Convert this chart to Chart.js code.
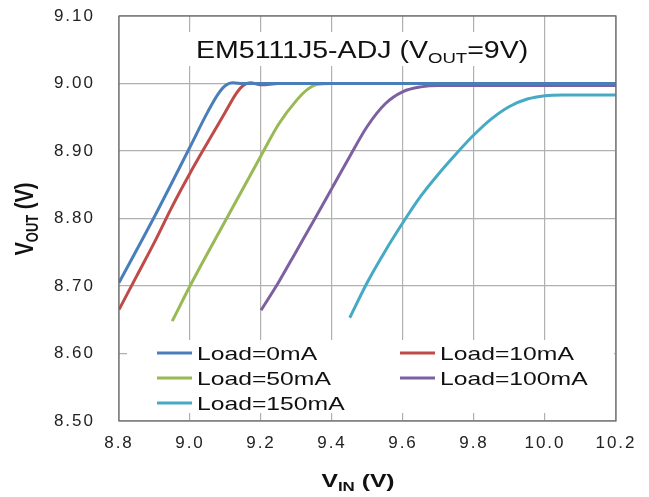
<!DOCTYPE html>
<html>
<head>
<meta charset="utf-8">
<script src="https://cdn.jsdelivr.net/npm/chart.js@4"></script>
<style>
  html, body { margin: 0; padding: 0; background: #fff; }
  #wrap { width: 649px; height: 497px; }
</style>
</head>
<body>
<div id="wrap"><canvas id="chart"></canvas></div>
<script>
// dropout curves, one per load current
const loads = ['Load=0mA', 'Load=10mA', 'Load=50mA', 'Load=100mA', 'Load=150mA'];
const colors = ['#4a7ebb', '#be4b48', '#98b954', '#7d60a0', '#46aac5'];

const vin0 = [8.80, 8.90, 9.00, 9.05, 9.08, 9.10, 9.12, 9.15, 9.40, 9.80, 10.20];
const vout0 = [8.705, 8.803, 8.906, 8.958, 8.985, 8.997, 9.001, 9.000, 9.000, 9.000, 9.000];

const vin10 = [8.80, 8.85, 8.90, 8.95, 9.00, 9.05, 9.10, 9.13, 9.15, 9.17, 9.20, 9.25, 9.60, 10.20];
const vout10 = [8.665, 8.715, 8.765, 8.818, 8.867, 8.913, 8.958, 8.985, 8.997, 9.001, 8.998, 9.000, 9.000, 9.000];

const vin50 = [8.95, 9.00, 9.10, 9.20, 9.25, 9.30, 9.33, 9.36, 9.40, 9.80, 10.20];
const vout50 = [8.648, 8.700, 8.797, 8.893, 8.940, 8.975, 8.991, 8.999, 9.000, 9.000, 9.000];

const vin100 = [9.20, 9.25, 9.30, 9.35, 9.40, 9.45, 9.50, 9.55, 9.60, 9.65, 9.70, 10.20];
const vout100 = [8.664, 8.706, 8.752, 8.798, 8.845, 8.892, 8.937, 8.970, 8.988, 8.995, 8.997, 8.997];

const vin150 = [9.45, 9.50, 9.55, 9.60, 9.65, 9.70, 9.75, 9.80, 9.85, 9.90, 9.95, 10.00, 10.05, 10.20];
const vout150 = [8.653, 8.706, 8.752, 8.794, 8.833, 8.866, 8.896, 8.924, 8.948, 8.966, 8.977, 8.982, 8.983, 8.983];

const xTicks = [8.8, 9.0, 9.2, 9.4, 9.6, 9.8, 10.0, 10.2];
const yTicks = [8.5, 8.6, 8.7, 8.8, 8.9, 9.0, 9.1];

const FONT = '"Liberation Sans", Arial, Helvetica, sans-serif';
Chart.defaults.font.family = FONT;

const series = [[vin0, vout0], [vin10, vout10], [vin50, vout50], [vin100, vout100], [vin150, vout150]];

const datasets = series.map(([xs, ys], i) => ({
  label: loads[i],
  data: xs.map((x, k) => ({ x: x, y: ys[k] })),
  borderColor: colors[i],
  backgroundColor: colors[i],
  borderWidth: 3,
  pointRadius: 0,
  cubicInterpolationMode: 'monotone',
  fill: false
}));

// text with a horizontal stretch, parts = [text, size, bold, dy]
function richWidth(ctx, parts) {
  let w = 0;
  parts.forEach(p => {
    ctx.font = (p[2] ? 'bold ' : '') + p[1] + 'px ' + FONT;
    w += ctx.measureText(p[0]).width;
  });
  return w;
}

function drawRich(ctx, parts, x, y, sx, align) {
  const w = richWidth(ctx, parts) * sx;
  const start = align === 'center' ? x - w / 2 : x;
  ctx.save();
  ctx.translate(start, y);
  ctx.scale(sx, 1);
  ctx.fillStyle = '#111';
  ctx.textBaseline = 'alphabetic';
  ctx.textAlign = 'left';
  let cx = 0;
  parts.forEach(p => {
    ctx.font = (p[2] ? 'bold ' : '') + p[1] + 'px ' + FONT;
    ctx.fillText(p[0], cx, p[3] || 0);
    cx += ctx.measureText(p[0]).width;
  });
  ctx.restore();
}

const decorations = {
  id: 'decorations',
  beforeDraw(chart) {
    chart.ctx.letterSpacing = '2px';
  },
  beforeDatasetsDraw(chart) {
    const ctx = chart.ctx;
    const a = chart.chartArea;
    ctx.letterSpacing = '0px';

    // white panels behind the title and the legend
    ctx.save();
    ctx.fillStyle = '#fff';
    ctx.fillRect(185, 32, 355, 34);
    ctx.fillRect(a.left + 8, 340, a.right - a.left - 10, 73);
    ctx.restore();

    drawRich(ctx, [['EM5111J5-ADJ (V', 23, false, 0], ['OUT', 15, false, 5], ['=9V)', 23, false, 0]],
      196, 58, 1.24, 'left');

    // legend, two columns
    const colX = [157, 400];
    const rowY = [353, 378, 403];
    chart.data.datasets.forEach((ds, i) => {
      const x = colX[i % 2];
      const y = rowY[Math.floor(i / 2)];
      ctx.save();
      ctx.strokeStyle = ds.borderColor;
      ctx.lineWidth = 3;
      ctx.beginPath();
      ctx.moveTo(x, y);
      ctx.lineTo(x + 35, y);
      ctx.stroke();
      ctx.restore();
      drawRich(ctx, [[ds.label, 19, false, 0]], x + 40, y + 7, 1.3, 'left');
    });
  },
  afterDraw(chart) {
    const ctx = chart.ctx;
    const a = chart.chartArea;
    ctx.save();
    ctx.strokeStyle = '#666';
    ctx.lineWidth = 1.2;
    ctx.strokeRect(a.left, a.top, a.right - a.left, a.bottom - a.top);
    ctx.restore();

    // axis titles
    drawRich(ctx, [['V', 19, true, 0], ['IN', 13, true, 4], [' (V)', 19, true, 0]], 358, 487, 1.3, 'center');

    ctx.save();
    ctx.translate(33, 219);
    ctx.rotate(-Math.PI / 2);
    ctx.scale(1, 1.28);
    drawRich(ctx, [['V', 20, true, 0], ['OUT', 13, true, 4], [' (V)', 20, true, 0]], 0, 0, 1, 'center');
    ctx.restore();
  }
};

new Chart(document.getElementById('chart'), {
  type: 'line',
  data: { datasets: datasets },
  options: {
    responsive: true,
    maintainAspectRatio: false,
    animation: false,
    layout: { padding: { top: 16, right: 33, left: 0, bottom: 0 } },
    plugins: {
      legend: { display: false },
      tooltip: { enabled: false }
    },
    scales: {
      x: {
        type: 'linear',
        min: 8.8,
        max: 10.2,
        afterBuildTicks: s => { s.ticks = xTicks.map(v => ({ value: v })); },
        afterFit: s => { s.height = 76; },
        grid: { color: '#b0b0b0', lineWidth: 1.2, drawTicks: false },
        border: { display: false },
        ticks: {
          padding: 12,
          color: '#222',
          font: { size: 17 },
          maxRotation: 0,
          callback: v => Number(v).toFixed(1)
        }
      },
      y: {
        type: 'linear',
        min: 8.5,
        max: 9.1,
        afterBuildTicks: s => { s.ticks = yTicks.map(v => ({ value: v })); },
        afterFit: s => { s.width = 119; },
        grid: { color: '#b0b0b0', lineWidth: 1.2, drawTicks: true, tickLength: 20, tickColor: 'rgba(0,0,0,0)' },
        border: { display: false },
        ticks: {
          padding: 4,
          color: '#222',
          font: { size: 17 },
          callback: v => Number(v).toFixed(2)
        }
      }
    }
  },
  plugins: [decorations]
});
</script>
</body>
</html>
